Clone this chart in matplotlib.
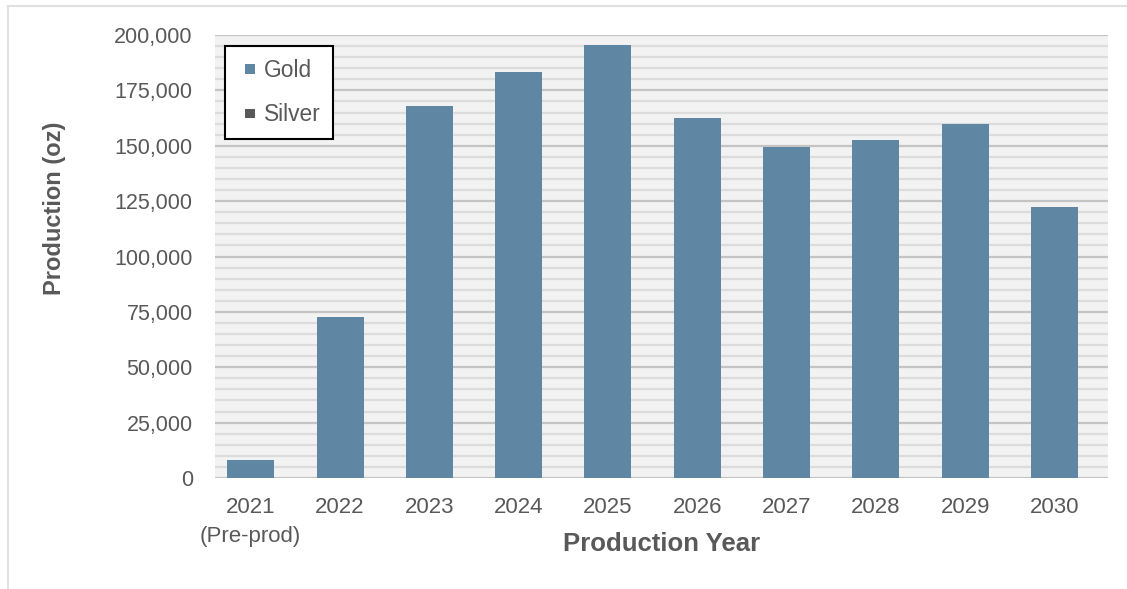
import matplotlib
matplotlib.use("Agg")
import matplotlib.pyplot as plt
from matplotlib.patches import Patch, Rectangle
from matplotlib.legend_handler import HandlerPatch
from matplotlib.ticker import MultipleLocator, FuncFormatter
from matplotlib.lines import Line2D

years = ["2021\n(Pre-prod)", "2022", "2023", "2024", "2025", "2026", "2027", "2028", "2029", "2030"]
gold = [8000, 72500, 168000, 183500, 195500, 162500, 149500, 152500, 160000, 122500]
series_names = ["Gold", "Silver"]

plt.rcParams['font.family'] = ['Liberation Sans', 'DejaVu Sans']
text_color = "#595959"
gold_color = "#5f86a3"
silver_color = "#595959"

W, H = 1127, 589
ax_l, ax_r, ax_t, ax_b = 215, 1108, 35, 478
fig = plt.figure(figsize=(W/100, H/100), dpi=100)
ax = fig.add_axes([ax_l/W, 1-ax_b/H, (ax_r-ax_l)/W, (ax_b-ax_t)/H])
ax.set_facecolor("#f2f2f2")

x = range(len(years))
ax.bar(x, gold, width=0.526, color=gold_color, zorder=3)

ax.set_xlim(-0.40, len(years)-0.40)
ax.set_ylim(0, 200000)
ax.yaxis.set_major_locator(MultipleLocator(25000))
ax.yaxis.set_minor_locator(MultipleLocator(5000))
ax.yaxis.set_major_formatter(FuncFormatter(lambda v, p: f"{int(v):,}"))
ax.grid(axis='y', which='major', color="#c4c4c4", linewidth=1.6, zorder=1)
ax.grid(axis='y', which='minor', color="#dcdcdc", linewidth=1.6, zorder=1)
ax.set_axisbelow(True)
for s in ax.spines.values():
    s.set_visible(False)

ax.set_xticks(list(x))
ax.set_xticklabels(years, fontsize=16, color=text_color, linespacing=1.45)
ax.tick_params(axis='x', length=0, pad=14)
ax.tick_params(axis='y', which='both', length=0, pad=16, labelsize=15.5, labelcolor=text_color)

ax.set_xlabel("Production Year", fontsize=18.5, fontweight='bold', color=text_color)
ax.xaxis.label.set_va('center')
ax.xaxis.set_label_coords((662-ax_l)/(ax_r-ax_l), (ax_b-544)/(ax_b-ax_t))
ax.set_ylabel("Production (oz)", fontsize=17, fontweight='bold', color=text_color)
ax.yaxis.label.set_va('center')
ax.yaxis.set_label_coords((55-ax_l)/(ax_r-ax_l), (ax_b-208)/(ax_b-ax_t))


def square_patch(legend, orig_handle, xdescent, ydescent, width, height, fontsize):
    s = 0.42 * fontsize
    return Rectangle((-xdescent + width - s, -ydescent + (height - s) / 2), s, s)


handles = [Patch(facecolor=gold_color), Patch(facecolor=silver_color)]
leg = ax.legend(handles, series_names, loc='upper left',
                bbox_to_anchor=((225-ax_l)/(ax_r-ax_l), (ax_b-46)/(ax_b-ax_t)),
                fontsize=16.4, frameon=True, fancybox=False, handlelength=0.75, handleheight=0.7,
                handletextpad=0.4, labelspacing=0.95, borderpad=0.56, borderaxespad=0,
                labelcolor=text_color,
                handler_map={Patch: HandlerPatch(patch_func=square_patch)})
leg.get_frame().set_edgecolor("#000000")
leg.get_frame().set_linewidth(1.5)
leg.get_frame().set_facecolor("white")
leg.get_frame().set_alpha(1)

# outer light border
fig.add_artist(Line2D([8/W, 8/W], [0, 1-6/H], transform=fig.transFigure, color="#e0e0e0", lw=1.5))
fig.add_artist(Line2D([8/W, 1], [1-6/H, 1-6/H], transform=fig.transFigure, color="#e0e0e0", lw=1.5))

fig.savefig("out.png", dpi=100)
